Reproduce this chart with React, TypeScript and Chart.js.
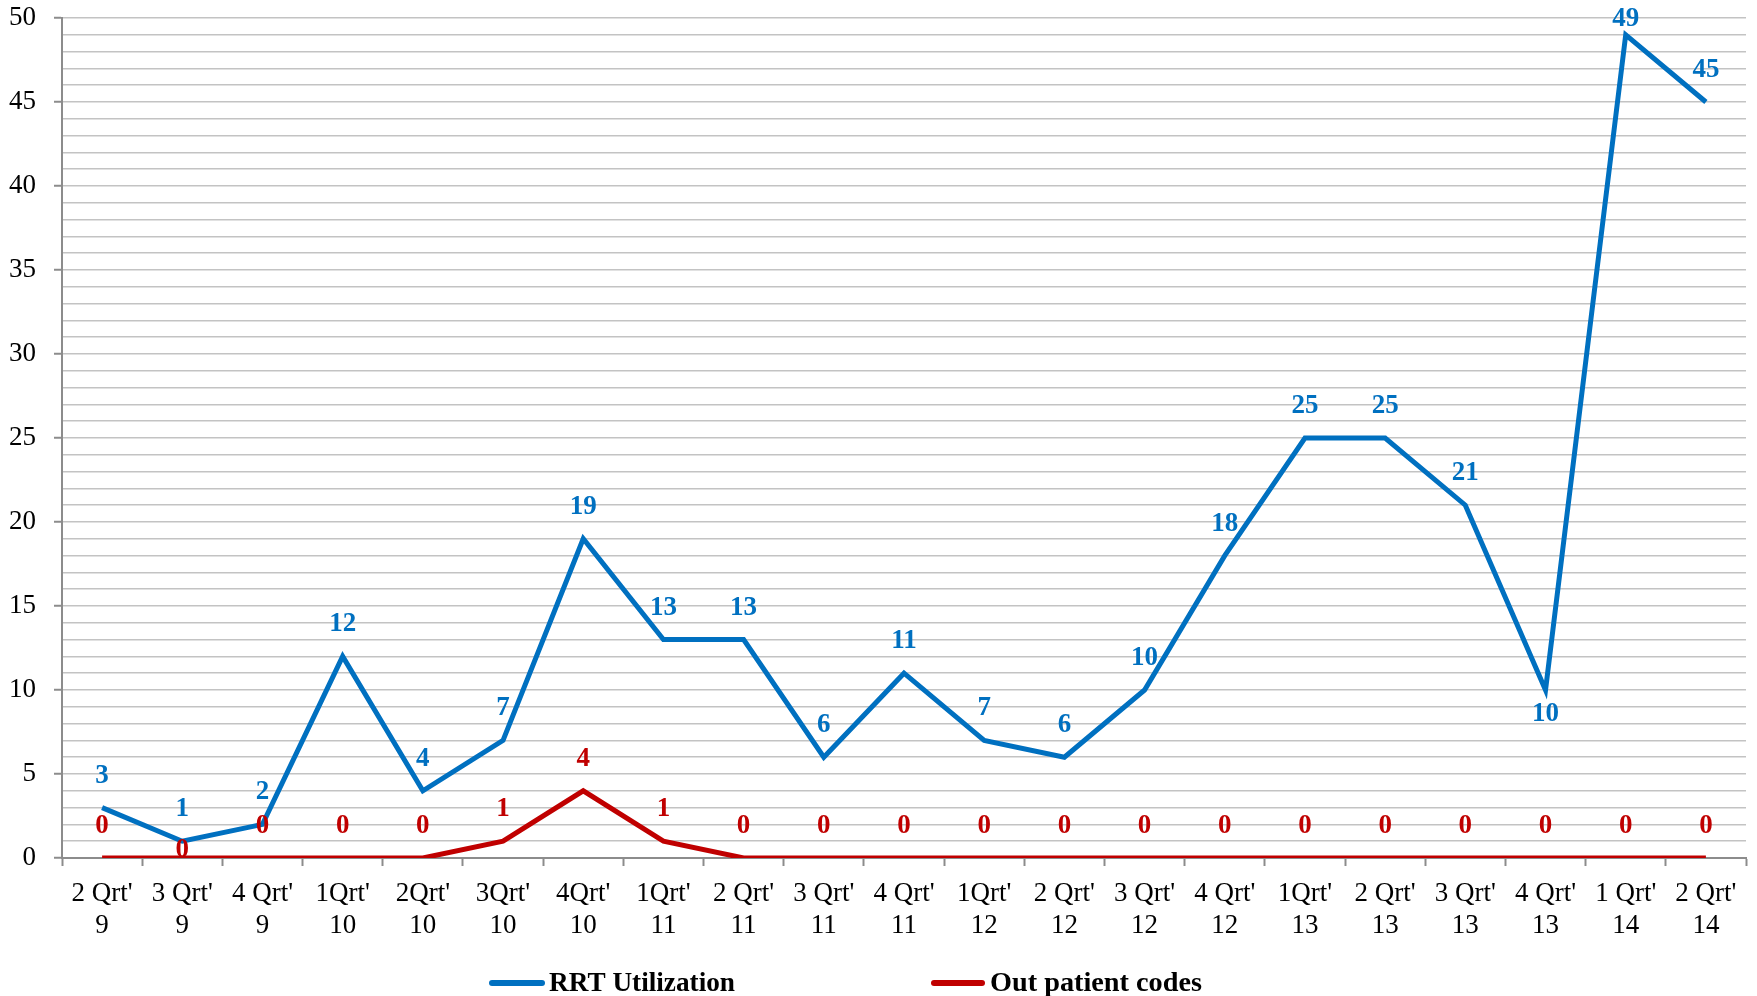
import React, { useEffect, useRef } from "react";
import { Chart, registerables } from "chart.js";

Chart.register(...registerables);

const categories: string[][] = [
  ["2 Qrt'", "9"], ["3 Qrt'", "9"], ["4 Qrt'", "9"], ["1Qrt'", "10"], ["2Qrt'", "10"],
  ["3Qrt'", "10"], ["4Qrt'", "10"], ["1Qrt'", "11"], ["2 Qrt'", "11"], ["3 Qrt'", "11"],
  ["4 Qrt'", "11"], ["1Qrt'", "12"], ["2 Qrt'", "12"], ["3 Qrt'", "12"], ["4 Qrt'", "12"],
  ["1Qrt'", "13"], ["2 Qrt'", "13"], ["3 Qrt'", "13"], ["4 Qrt'", "13"], ["1 Qrt'", "14"],
  ["2 Qrt'", "14"],
];

const rrtUtilization: number[] = [3, 1, 2, 12, 4, 7, 19, 13, 13, 6, 11, 7, 6, 10, 18, 25, 25, 21, 10, 49, 45];
const outPatientCodes: number[] = [0, 0, 0, 0, 0, 1, 4, 1, 0, 0, 0, 0, 0, 0, 0, 0, 0, 0, 0, 0, 0];

const seriesNames: string[] = ["RRT Utilization", "Out patient codes"];
const seriesColors: string[] = ["#0070C0", "#C00000"];

// label placement per point (style only)
const rrtLabelPos: string[] = rrtUtilization.map((_, i) => (i === 18 ? "below" : i === 19 ? "near" : "above"));
const opLabelPos: string[] = outPatientCodes.map((_, i) => (i === 1 ? "center" : "above"));

const FONT = "'Liberation Serif', 'DejaVu Serif', serif";

const valueLabels = {
  id: "valueLabels",
  afterDatasetsDraw(chart: any) {
    const ctx = chart.ctx;
    const positions = [rrtLabelPos, opLabelPos];
    ctx.save();
    ctx.font = `bold 27px ${FONT}`;
    ctx.textAlign = "center";
    ctx.textBaseline = "middle";
    chart.data.datasets.forEach((ds: any, i: number) => {
      const meta = chart.getDatasetMeta(i);
      ctx.fillStyle = seriesColors[i];
      meta.data.forEach((pt: any, j: number) => {
        const p = positions[i][j];
        let dy = -32;
        if (p === "below") dy = 24;
        if (p === "center") dy = -8;
        if (p === "near") dy = -16;
        ctx.fillText(String(ds.data[j]), pt.x, pt.y + dy);
      });
    });
    ctx.restore();
  },
};

const customLegend = {
  id: "customLegend",
  afterDraw(chart: any) {
    const ctx = chart.ctx;
    const items = [
      { x0: 489, x1: 545, tx: 549, w: 186 },
      { x0: 931, x1: 985, tx: 990, w: 212 },
    ];
    const y = 983;
    ctx.save();
    items.forEach((it, i) => {
      ctx.strokeStyle = seriesColors[i];
      ctx.lineWidth = 6;
      ctx.lineCap = "round";
      ctx.beginPath();
      ctx.moveTo(it.x0 + 3, y);
      ctx.lineTo(it.x1 - 3, y);
      ctx.stroke();
      ctx.font = `bold 27px ${FONT}`;
      ctx.fillStyle = "#000";
      ctx.textBaseline = "alphabetic";
      ctx.textAlign = "left";
      const tw = ctx.measureText(seriesNames[i]).width;
      const sx = it.w / tw;
      ctx.save();
      ctx.translate(it.tx, 991);
      ctx.scale(sx, 1);
      ctx.fillText(seriesNames[i], 0, 0);
      ctx.restore();
    });
    ctx.restore();
  },
};

export default function App() {
  const ref = useRef<HTMLCanvasElement | null>(null);

  useEffect(() => {
    document.body.style.margin = "0";
    if (!ref.current) return;
    const chart = new Chart(ref.current, {
      type: "line",
      data: {
        labels: categories,
        datasets: [
          {
            label: seriesNames[0],
            data: rrtUtilization,
            borderColor: seriesColors[0],
            backgroundColor: seriesColors[0],
            borderWidth: 5,
            pointRadius: 0,
            tension: 0,
          },
          {
            label: seriesNames[1],
            data: outPatientCodes,
            borderColor: seriesColors[1],
            backgroundColor: seriesColors[1],
            borderWidth: 5,
            pointRadius: 0,
            tension: 0,
          },
        ],
      },
      options: {
        animation: false,
        responsive: false,
        maintainAspectRatio: false,
        layout: { padding: { top: 18, right: 11, left: 0, bottom: 0 } },
        plugins: {
          legend: { display: false },
          tooltip: { enabled: false },
        },
        scales: {
          x: {
            type: "category",
            offset: true,
            grid: {
              offset: true,
              drawOnChartArea: false,
              drawTicks: true,
              tickLength: 8,
              tickColor: "#8c8c8c",
              tickWidth: 2,
            },
            border: { color: "#8c8c8c", width: 2 },
            ticks: {
              color: "#000",
              font: { family: FONT, size: 27, lineHeight: 1.185 },
              padding: 12,
              maxRotation: 0,
              autoSkip: false,
            },
            afterFit(scale: any) {
              scale.height = 138;
              scale.paddingLeft = 0;
              scale.paddingRight = 0;
            },
          },
          y: {
            min: 0,
            max: 50,
            grid: {
              color: "#c3c3c3",
              lineWidth: 1.5,
              tickLength: 8,
              tickColor: (c: any) => (c.tick && c.tick.value % 5 === 0 ? "#8c8c8c" : "rgba(0,0,0,0)"),
              tickWidth: 2,
            },
            border: { color: "#8c8c8c", width: 2 },
            ticks: {
              stepSize: 1,
              autoSkip: false,
              color: "#000",
              font: { family: FONT, size: 27, lineHeight: 1.2 },
              padding: 18,
              callback: (v: any) => (Number(v) % 5 === 0 ? String(v) : ""),
            },
            afterFit(scale: any) {
              scale.width = 62;
              scale.paddingTop = 0;
              scale.paddingBottom = 0;
            },
          },
        },
      },
      plugins: [valueLabels, customLegend],
    });
    return () => chart.destroy();
  }, []);

  return (
    <div style={{ width: 1757, height: 996 }}>
      <canvas ref={ref} width={1757} height={996} style={{ display: "block" }} />
    </div>
  );
}
